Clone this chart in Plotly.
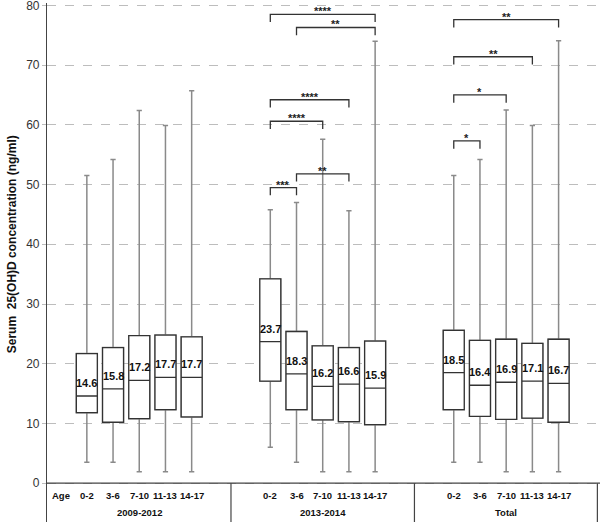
"""Serum 25(OH)D concentration by age group and period (box plot)."""

import plotly.graph_objects as go

FONT = "Liberation Sans, Arial, sans-serif"

periods = ["2009-2012", "2013-2014", "Total"]
age_groups = ["0-2", "3-6", "7-10", "11-13", "14-17"]

# box statistics per period, in age group order
q1 = {
    "2009-2012": [11.8, 10.2, 10.8, 12.3, 11.1],
    "2013-2014": [17.1, 12.3, 10.6, 10.3, 9.8],
    "Total": [12.3, 11.2, 10.7, 10.9, 10.2],
}
median = {
    "2009-2012": [14.6, 15.8, 17.2, 17.7, 17.7],
    "2013-2014": [23.7, 18.3, 16.2, 16.6, 15.9],
    "Total": [18.5, 16.4, 16.9, 17.1, 16.7],
}
q3 = {
    "2009-2012": [21.7, 22.7, 24.7, 24.8, 24.5],
    "2013-2014": [34.2, 25.4, 23.0, 22.7, 23.8],
    "Total": [25.6, 23.9, 24.1, 23.4, 24.1],
}
low = {
    "2009-2012": [3.5, 3.5, 1.9, 1.9, 1.9],
    "2013-2014": [6.0, 3.5, 1.9, 1.9, 1.9],
    "Total": [3.5, 3.5, 1.9, 1.9, 1.9],
}
high = {
    "2009-2012": [51.5, 54.2, 62.4, 59.9, 65.7],
    "2013-2014": [45.8, 47.0, 57.6, 45.6, 74.0],
    "Total": [51.5, 54.2, 62.5, 59.9, 74.1],
}

# significance brackets: period, from age index, to age index, height, stars
brackets = [
    ("2013-2014", 0, 4, 78.5, "****"),
    ("2013-2014", 1, 4, 76.3, "**"),
    ("2013-2014", 0, 3, 64.2, "****"),
    ("2013-2014", 0, 2, 60.6, "****"),
    ("2013-2014", 1, 3, 51.8, "**"),
    ("2013-2014", 0, 1, 49.5, "***"),
    ("Total", 0, 4, 77.6, "**"),
    ("Total", 0, 3, 71.4, "**"),
    ("Total", 0, 2, 65.0, "*"),
    ("Total", 0, 1, 57.3, "*"),
]

GROUP_GAP = 7
Y_MIN = -6.5
Y_MAX = 80.4


def pos(p, i):
    return periods.index(p) * GROUP_GAP + i


xs, s_q1, s_med, s_q3, s_lo, s_hi = [], [], [], [], [], []
for p in periods:
    for i in range(len(age_groups)):
        xs.append(pos(p, i))
        s_q1.append(q1[p][i])
        s_med.append(median[p][i])
        s_q3.append(q3[p][i])
        s_lo.append(low[p][i])
        s_hi.append(high[p][i])

fig = go.Figure()

# whiskers (grey) underneath
fig.add_trace(
    go.Box(
        x=xs, q1=s_q1, median=s_med, q3=s_q3,
        lowerfence=s_lo, upperfence=s_hi,
        width=0.8, whiskerwidth=0.25,
        fillcolor="white", line=dict(color="#8a8a8a", width=1.5),
        boxpoints=False, hoverinfo="skip", showlegend=False,
    )
)
# boxes (dark outline) on top
fig.add_trace(
    go.Box(
        x=xs, q1=s_q1, median=s_med, q3=s_q3,
        lowerfence=s_q1, upperfence=s_q3,
        width=0.8, whiskerwidth=0,
        fillcolor="white", line=dict(color="#333333", width=1.3),
        boxpoints=False, showlegend=False,
    )
)

# median labels
for x, m in zip(xs, s_med):
    fig.add_annotation(
        x=x, y=m, text=f"<b>{m:.1f}</b>", showarrow=False, yshift=13,
        font=dict(family=FONT, size=11, color="#111111"),
    )

# brackets
for p, a, b, h, stars in brackets:
    xa, xb = pos(p, a), pos(p, b)
    drop = 1.3
    fig.add_trace(
        go.Scatter(
            x=[xa, xa, xb, xb], y=[h - drop, h, h, h - drop],
            mode="lines", line=dict(color="#333333", width=1.3),
            hoverinfo="skip", showlegend=False,
        )
    )
    fig.add_annotation(
        x=(xa + xb) / 2, y=h, text=f"<b>{stars}</b>", showarrow=False,
        yanchor="bottom", yshift=-5,
        font=dict(family=FONT, size=11, color="#222222"),
    )

# table under the plot
fig.add_shape(type="line", x0=-1.6, x1=19.6, y0=0, y1=0,
              line=dict(color="#444444", width=1.2))
for xv in [5.5, 12.5, 19.48]:
    fig.add_shape(type="line", x0=xv, x1=xv, y0=0, y1=Y_MIN,
                  line=dict(color="#444444", width=1.2))

fig.add_annotation(x=-1, y=-2.1, text="<b>Age</b>", showarrow=False,
                   font=dict(family=FONT, size=9.5, color="#111111"))
for p in periods:
    for i, a in enumerate(age_groups):
        fig.add_annotation(
            x=pos(p, i), y=-2.1, text=f"<b>{a}</b>", showarrow=False,
            font=dict(family=FONT, size=9.5, color="#111111"),
        )
    fig.add_annotation(
        x=pos(p, 2), y=-4.9, text=f"<b>{p}</b>", showarrow=False,
        font=dict(family=FONT, size=9.5, color="#111111"),
    )

# y axis title placed by hand so the margins stay fixed
fig.add_annotation(
    xref="paper", yref="y", x=0, xanchor="center", xshift=-35, y=40,
    text="<b>Serum  25(OH)D concentration (ng/ml)</b>",
    textangle=-90, showarrow=False,
    font=dict(family=FONT, size=12, color="#111111"),
)

fig.update_layout(
    width=600,
    height=522,
    plot_bgcolor="white",
    paper_bgcolor="white",
    margin=dict(l=47, r=0, t=3, b=0, autoexpand=False),
    font=dict(family=FONT),
    xaxis=dict(
        range=[-1.52, 19.58], showgrid=False, zeroline=False,
        showticklabels=False, ticks="", showline=False, automargin=False,
    ),
    yaxis=dict(
        range=[Y_MIN, Y_MAX],
        tickvals=list(range(0, 81, 10)),
        showgrid=True, gridcolor="#bdbdbd", griddash="dash", gridwidth=1,
        zeroline=False, automargin=False, ticklabeloverflow="allow",
        showline=True, linecolor="#444444", linewidth=1.2,
        ticks="outside", ticklen=4, tickcolor="#bdbdbd",
        tickfont=dict(family=FONT, size=12, color="#333333"),
    ),
)

fig.write_html(
    "out.html",
    config={"displayModeBar": False},
    post_script="document.body.style.margin='0';",
)
